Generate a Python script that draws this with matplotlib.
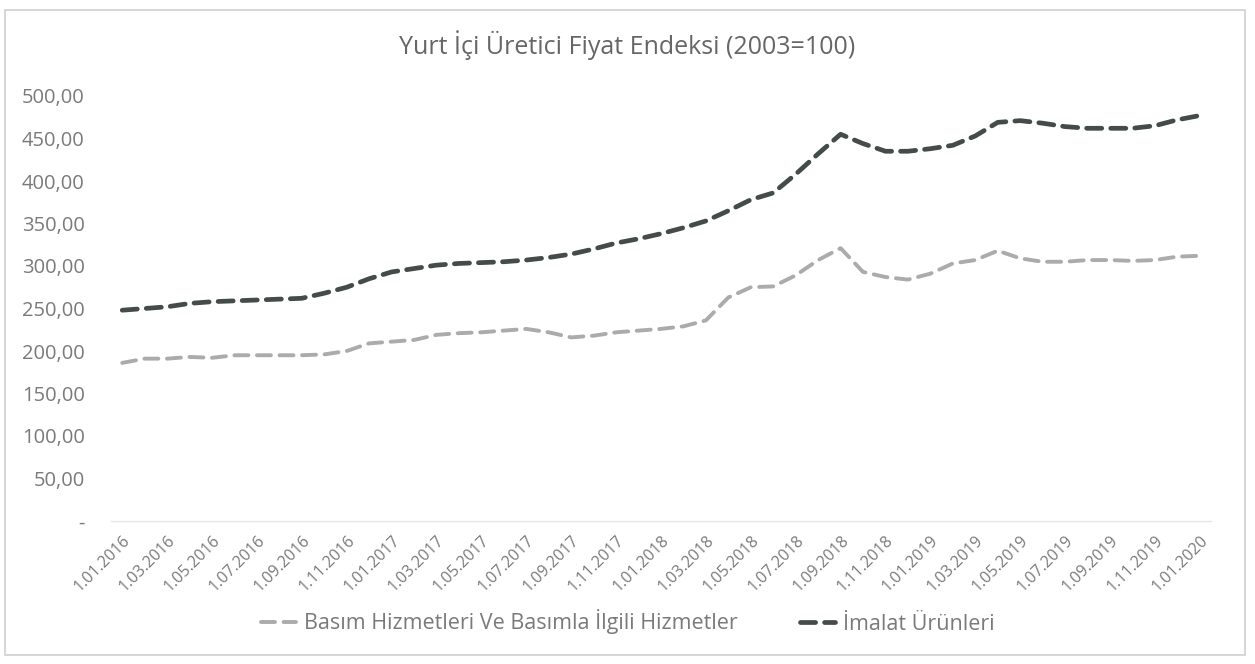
import matplotlib
matplotlib.use("Agg")
import matplotlib.pyplot as plt
from matplotlib.patches import Rectangle

# ---- data ----
months = [f"1.{m:02d}.{y}" for y in range(2016, 2020) for m in range(1, 13)] + ["1.01.2020"]
basim = [186, 191, 191, 193, 192, 195, 195, 195, 195, 196, 200, 209,
         211, 213, 219, 221, 222, 224, 226, 222, 216, 218, 222, 224,
         226, 229, 236, 263, 275, 276, 289, 307, 321, 293, 287, 284,
         291, 303, 307, 318, 309, 305, 305, 307, 307, 306, 307, 311,
         312]
imalat = [248, 250, 252, 256, 258, 259, 260, 261, 262, 268, 275, 285,
          293, 297, 301, 303, 304, 305, 307, 310, 314, 320, 327, 332,
          338, 345, 353, 365, 378, 386, 408, 432, 455, 444, 435, 435,
          438, 442, 453, 469, 471, 468, 464, 462, 462, 462, 465, 472,
          477]
series_names = ["Basım Hizmetleri Ve Basımla İlgili Hizmetler", "İmalat Ürünleri"]
title = "Yurt İçi Üretici Fiyat Endeksi (2003=100)"
yticks = [0, 50, 100, 150, 200, 250, 300, 350, 400, 450, 500]
ytick_labels = ["-" if v == 0 else f"{v},00" for v in yticks]

FONT = ["Open Sans", "DejaVu Sans"]
plt.rcParams["font.family"] = FONT
TXT = "#7a7a7a"

W, H = 1255, 664
fig = plt.figure(figsize=(W / 100, H / 100), dpi=100)
fig.patch.set_facecolor("white")

# outer chart border
fig.add_artist(Rectangle((5 / W, 9 / H), 1240 / W, 645 / H, transform=fig.transFigure,
                         fill=False, edgecolor="#d0d0d0", linewidth=1.2))

ax = fig.add_axes([111 / W, (H - 521) / H, 1100 / W, 425 / H])
x = list(range(len(months)))
ax.plot(x, basim, color="#ababab", linewidth=2.8, linestyle=(0, (3.6, 2.2)),
        dash_capstyle="round", label=series_names[0])
ax.plot(x, imalat, color="#434c4a", linewidth=3.4, linestyle=(0, (3.2, 1.9)),
        dash_capstyle="round", label=series_names[1])

ax.set_xlim(-0.5, len(months) - 0.5)
ax.set_ylim(0, 500)
ax.set_yticks(yticks)
ax.set_yticklabels(ytick_labels, fontsize=14.5, color=TXT)
ax.set_xticks(x[::2])
ax.set_xticklabels(months[::2], rotation=45, ha="right", va="top",
                   rotation_mode="anchor", fontsize=11.5, color=TXT)
ax.tick_params(axis="both", length=0)
ax.tick_params(axis="y", pad=19)
ax.tick_params(axis="x", pad=8)
for s in ["top", "right", "left"]:
    ax.spines[s].set_visible(False)
ax.spines["bottom"].set_color("#e6e6e6")
ax.spines["bottom"].set_linewidth(1.0)

fig.text(0.5, (H - 45) / H, title, ha="center", va="center", fontsize=18, color="#666666")

leg = fig.legend(loc="center", bbox_to_anchor=(0.5, (H - 622) / H), ncol=2, frameon=False,
                 fontsize=15.5, labelcolor=TXT, handlelength=1.65, columnspacing=2.9,
                 handletextpad=0.35)

fig.savefig("out.png", dpi=100, facecolor="white")
